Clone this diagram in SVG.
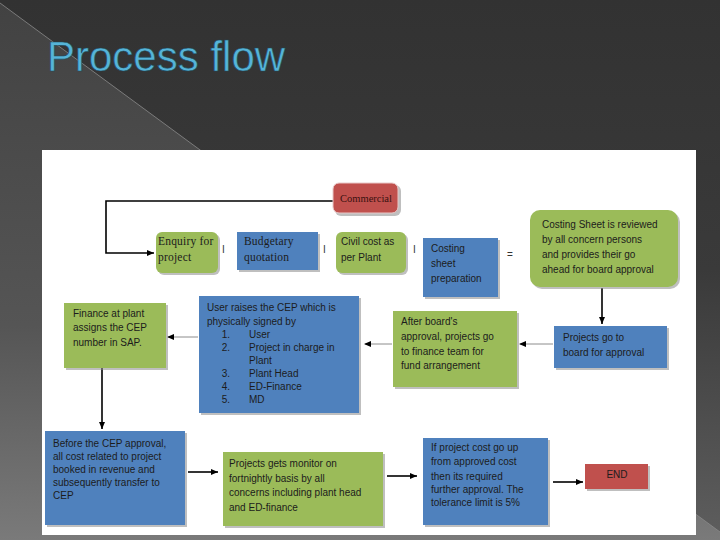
<svg xmlns="http://www.w3.org/2000/svg" width="720" height="540" viewBox="0 0 720 540">
<defs>
<linearGradient id="bgv" x1="0" y1="0" x2="0" y2="1">
<stop offset="0" stop-color="#323232"/>
<stop offset="0.5" stop-color="#3a3a3a"/>
<stop offset="1" stop-color="#5e5e5e"/>
</linearGradient>
<linearGradient id="tri" x1="0" y1="0" x2="0" y2="1">
<stop offset="0" stop-color="#424242"/>
<stop offset="0.6" stop-color="#555555"/>
<stop offset="1" stop-color="#7a7a7a"/>
</linearGradient>
<marker id="ah" markerWidth="8" markerHeight="8" refX="7" refY="4" orient="auto" markerUnits="userSpaceOnUse">
<path d="M0,1 L7,4 L0,7 Z" fill="#000"/>
</marker>
<style>
.green{fill:#9bbb59}
.blue{fill:#4f81bd}
.red{fill:#c0504d}
.shadow{fill:#8a8a8a;opacity:0.55}
.t{font-family:"Liberation Sans",Arial,sans-serif;font-size:10px;fill:#1c1c1c}
.s{font-family:"Liberation Serif","Times New Roman",serif;font-size:11.5px;fill:#1c1c1c;letter-spacing:0.2px}
.sep{font-family:"Liberation Sans",Arial,sans-serif;font-size:10px;fill:#333}
.line{stroke:#000;stroke-width:1.6;fill:none}
.gline{stroke:#8c8c8c;stroke-width:1;fill:none}
</style>
</defs>
<rect x="0" y="0" width="720" height="540" fill="url(#bgv)"/>
<polygon points="0,3 720,532 720,540 0,540" fill="url(#tri)"/>
<line x1="0" y1="3" x2="720" y2="532" stroke="#8a8a8a" stroke-width="0.8"/>
<text x="47" y="71" font-family="Liberation Sans,Arial,sans-serif" font-size="42" fill="#56b4d8" stroke="#1d4a5c" stroke-width="0.6">Process flow</text>
<rect x="42" y="150" width="654" height="385" fill="#ffffff"/>

<g id="connectors">
<polyline class="line" points="333,201 106,201 106,253 154,253" marker-end="url(#ah)"/>
<line class="line" x1="602" y1="288" x2="602" y2="324" marker-end="url(#ah)"/>
<line class="gline" x1="553" y1="344" x2="520" y2="344"/>
<path d="M519,344 L526,341 L526,347 Z" fill="#000"/>
<line class="gline" x1="392" y1="344" x2="365" y2="344"/>
<path d="M364,344 L371,341 L371,347 Z" fill="#000"/>
<line class="gline" x1="198" y1="337" x2="168" y2="337"/>
<path d="M167,337 L174,334 L174,340 Z" fill="#000"/>
<line class="line" x1="102" y1="368" x2="102" y2="429" marker-end="url(#ah)"/>
<line class="line" x1="188" y1="472" x2="218" y2="472" marker-end="url(#ah)"/>
<line class="line" x1="387" y1="476" x2="417" y2="476" marker-end="url(#ah)"/>
<line class="line" x1="553" y1="482" x2="583" y2="482" marker-end="url(#ah)"/>
<text class="sep" x="222" y="253">I</text>
<text class="sep" x="323" y="253">I</text>
<text class="sep" x="413" y="253">I</text>
<text class="sep" x="507" y="258">=</text>
</g>

<g id="commercial">
<rect class="shadow" x="335" y="185" width="66" height="31" rx="6"/>
<rect class="red" x="333" y="183" width="65" height="30" rx="6" stroke="#e8c8c8" stroke-width="1"/>
<text x="366" y="202" text-anchor="middle" font-family="Liberation Serif,Times New Roman,serif" font-size="10.5" fill="#3a1010">Commercial</text>
</g>

<g id="enquiry">
<rect class="shadow" x="158" y="234" width="62" height="41" rx="6"/>
<rect class="green" x="156" y="232" width="62" height="41" rx="6"/>
<text class="s" x="158" y="245">Enquiry for</text>
<text class="s" x="158" y="261">project</text>
</g>

<g id="budgetary">
<rect class="shadow" x="239" y="234" width="81" height="38"/>
<rect class="blue" x="237" y="232" width="81" height="38"/>
<text class="s" x="244" y="245">Budgetary</text>
<text class="s" x="244" y="261">quotation</text>
</g>

<g id="civil">
<rect class="shadow" x="338" y="234" width="70" height="41" rx="6"/>
<rect class="green" x="336" y="232" width="70" height="41" rx="6"/>
<text class="t" x="341" y="245">Civil cost as</text>
<text class="t" x="341" y="261">per Plant</text>
</g>

<g id="costing-prep">
<rect class="shadow" x="425" y="240" width="75" height="59"/>
<rect class="blue" x="423" y="238" width="75" height="59"/>
<text class="t" x="431" y="252">Costing</text>
<text class="t" x="431" y="267">sheet</text>
<text class="t" x="431" y="282">preparation</text>
</g>

<g id="costing-review">
<rect class="shadow" x="532" y="212" width="148" height="77" rx="10"/>
<rect class="green" x="530" y="210" width="148" height="77" rx="10"/>
<text class="t" x="542" y="228">Costing Sheet is reviewed</text>
<text class="t" x="542" y="243">by all concern persons</text>
<text class="t" x="542" y="258">and provides their go</text>
<text class="t" x="542" y="273">ahead for board approval</text>
</g>

<g id="board">
<rect class="shadow" x="556" y="328" width="113" height="42"/>
<rect class="blue" x="554" y="326" width="113" height="42"/>
<text class="t" x="563" y="341">Projects go to</text>
<text class="t" x="563" y="356">board for approval</text>
</g>

<g id="after-board">
<rect class="shadow" x="395" y="313" width="124" height="76"/>
<rect class="green" x="393" y="311" width="124" height="76"/>
<text class="t" x="401" y="325">After board's</text>
<text class="t" x="401" y="340">approval, projects go</text>
<text class="t" x="401" y="355">to finance team  for</text>
<text class="t" x="401" y="369">fund arrangement</text>
</g>

<g id="user-cep">
<rect class="shadow" x="201" y="298" width="160" height="117"/>
<rect class="blue" x="199" y="296" width="160" height="117"/>
<text class="t" x="207" y="311">User raises the CEP  which is</text>
<text class="t" x="207" y="325">physically signed by</text>
<text class="t" x="230" y="338" text-anchor="end">1.</text><text class="t" x="249" y="338">User</text>
<text class="t" x="230" y="351" text-anchor="end">2.</text><text class="t" x="249" y="351">Project in charge in</text>
<text class="t" x="249" y="364">Plant</text>
<text class="t" x="230" y="377" text-anchor="end">3.</text><text class="t" x="249" y="377">Plant Head</text>
<text class="t" x="230" y="390" text-anchor="end">4.</text><text class="t" x="249" y="390">ED-Finance</text>
<text class="t" x="230" y="403" text-anchor="end">5.</text><text class="t" x="249" y="403">MD</text>
</g>

<g id="finance-plant">
<rect class="shadow" x="66" y="305" width="102" height="65"/>
<rect class="green" x="64" y="303" width="102" height="65"/>
<text class="t" x="73" y="317">Finance at plant</text>
<text class="t" x="73" y="331">assigns the CEP</text>
<text class="t" x="73" y="346">number in SAP.</text>
</g>

<g id="before-cep">
<rect class="shadow" x="47" y="433" width="140" height="94"/>
<rect class="blue" x="45" y="431" width="140" height="94"/>
<text class="t" x="53" y="447">Before the CEP approval,</text>
<text class="t" x="53" y="460">all cost related to project</text>
<text class="t" x="53" y="473">booked in revenue and</text>
<text class="t" x="53" y="486">subsequently transfer to</text>
<text class="t" x="53" y="499">CEP</text>
</g>

<g id="monitor">
<rect class="shadow" x="225" y="454" width="160" height="74"/>
<rect class="green" x="223" y="452" width="160" height="74"/>
<text class="t" x="229" y="467">Projects gets monitor on</text>
<text class="t" x="229" y="482">fortnightly basis by all</text>
<text class="t" x="229" y="496">concerns including plant head</text>
<text class="t" x="229" y="511">and ED-finance</text>
</g>

<g id="cost-up">
<rect class="shadow" x="425" y="440" width="125" height="87"/>
<rect class="blue" x="423" y="438" width="125" height="87"/>
<text class="t" x="431" y="451">If project cost go up</text>
<text class="t" x="431" y="465">from approved cost</text>
<text class="t" x="431" y="480">then its required</text>
<text class="t" x="431" y="493">further approval. The</text>
<text class="t" x="431" y="506">tolerance limit is 5%</text>
</g>

<g id="end">
<rect class="shadow" x="587" y="466" width="63" height="25"/>
<rect class="red" x="585" y="464" width="63" height="25"/>
<text class="t" x="617" y="478" text-anchor="middle">END</text>
</g>
</svg>
